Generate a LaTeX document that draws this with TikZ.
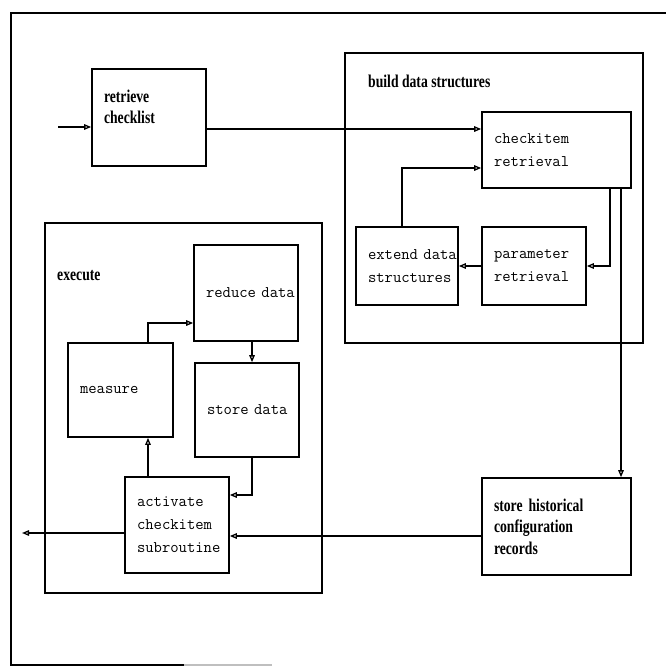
\documentclass[tikz,border=0pt]{standalone}
\usepackage{fontspec}
\usetikzlibrary{arrows.meta}
\newfontfamily\labfont[FakeStretch=0.76]{Liberation Serif}
\tikzset{
  lab/.style={font=\labfont\bfseries\fontsize{18}{21.5}\selectfont},
  mono/.style={font=\ttfamily\fontsize{16.2}{23}\selectfont},
  box/.style={draw, line width=1.6pt, inner xsep=12pt, inner ysep=0pt, align=left},
  frame/.style={draw, line width=1.6pt, inner sep=0pt},
  conn/.style={line width=1.3pt, -{Triangle[open,length=7pt,width=5.5pt]}},
  plain/.style={line width=1.3pt}
}
\begin{document}
\begin{tikzpicture}[x=1pt,y=-1pt]
\useasboundingbox (0,0) rectangle (666,669);
% page frame
\draw[line width=1.6pt] (666,13) -- (11,13) -- (11,665) -- (184,665);
\draw[line width=1.6pt, black!25] (184,665) -- (272,665);

% containers
\node[frame, minimum width=298pt, minimum height=290pt] (build) at (494,198) {};
\node[lab, anchor=base west, inner sep=0pt] (buildlab) at (368,88) {build data structures};
\node[frame, minimum width=277pt, minimum height=370pt] (exec) at (183.5,408) {};
\node[lab, anchor=base west, inner sep=0pt] (execlab) at (57,280) {execute};

% boxes
\node[box, lab, minimum width=114pt, minimum height=97pt, text width=90pt] (retr) at (149,117.5) {retrieve\\checklist\\\mbox{}};
\node[box, mono, minimum width=149pt, minimum height=76pt, text width=125pt] (chk) at (556.5,150) {checkitem\\retrieval};
\node[box, mono, minimum width=102pt, minimum height=78pt, text width=78pt] (ext) at (407,266) {extend~data\\structures};
\node[box, mono, minimum width=104pt, minimum height=78pt, text width=80pt] (par) at (534,266) {parameter\\retrieval};
\node[box, lab, minimum width=149pt, minimum height=97pt, text width=125pt] (hist) at (556.5,526.5) {store historical\\configuration\\records};
\node[box, mono, minimum width=104pt, minimum height=96pt, text width=80pt] (act) at (177,525) {activate\\checkitem\\subroutine};
\node[box, mono, minimum width=105pt, minimum height=94pt, text width=81pt] (meas) at (120.5,390) {measure};
\node[box, mono, minimum width=104pt, minimum height=96pt, text width=80pt] (red) at (246,293) {reduce~data};
\node[box, mono, minimum width=104pt, minimum height=94pt, text width=80pt] (sto) at (247,410) {store~data};

% connectors
\coordinate (in) at (58,127);
\draw[conn] (in) -- (in -| retr.west);
\draw[conn] ([yshift=-11.5pt]retr.east) coordinate (r1) -- (r1 -| chk.west);
\draw[conn] ([xshift=-5pt]ext.north) |- ([yshift=-18pt]chk.west);
\draw[conn] ([xshift=53.5pt]chk.south) |- (par.east);
\draw[conn] (par.west) -- (ext.east);
\draw[conn] ([xshift=64.5pt]chk.south) coordinate (h1) -- (h1 |- hist.north);
\draw[conn] ([yshift=-9.5pt]hist.west) coordinate (h2) -- (h2 -| act.east);
\coordinate (out) at (22,533);
\draw[conn] (act.west |- out) -- (out);
\draw[conn] ([xshift=6pt]red.south) coordinate (r2) -- (r2 |- sto.north);
\draw[conn] ([xshift=5pt]sto.south) |- ([yshift=30pt]act.east);
\draw[conn] ([xshift=-29pt]act.north) coordinate (a1) -- (a1 |- meas.south);
\draw[conn] ([xshift=27.5pt]meas.north) |- ([yshift=-30pt]red.west);
\end{tikzpicture}
\end{document}
